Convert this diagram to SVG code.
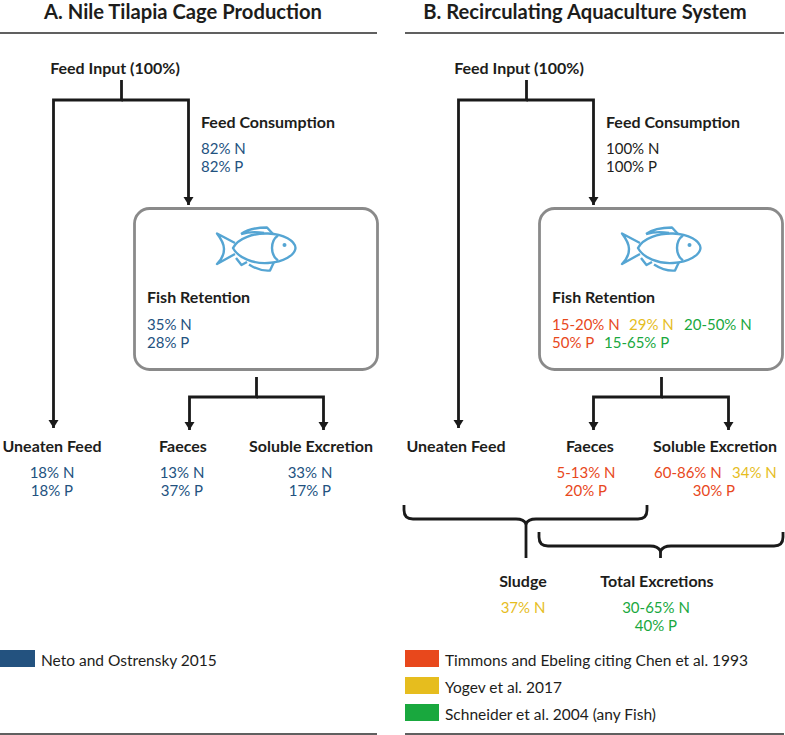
<svg xmlns="http://www.w3.org/2000/svg" width="785" height="735" viewBox="0 0 785 735">
<style>
text{font-family:Lato,"Open Sans","Liberation Sans",sans-serif;font-size:15px;fill:#1d1d1b}
.t{font-size:20.200px;font-weight:700;text-anchor:middle}
.b{font-weight:700;font-size:16px}
.m{text-anchor:middle}
.l{font-size:15.500px}
.blue{fill:#23527f}.red{fill:#e8481c}.yel{fill:#e6bd1e}.grn{fill:#19a83e}.blk{fill:#1d1d1b}
.rule{stroke:#2b2b2b;stroke-width:1.5;fill:none}
.conn{stroke:#1a1a1a;stroke-width:2.8;fill:none}
.box{fill:#fff;stroke:#8a8a8a;stroke-width:2.8}
.fish{fill:none;stroke:#55a5d3;stroke-width:2.400;stroke-linejoin:round}
</style>
<defs>
<marker id="ah" markerUnits="userSpaceOnUse" markerWidth="10" markerHeight="12" refX="8" refY="5" orient="auto"><path d="M0 0L8 5L0 10Z" fill="#1a1a1a"/></marker>
<g id="fishg" class="fish">
<path d="M233 248C238 238 254 233 268 233.500C284 234 295 241 295.500 248C295 255 284 262 268 263C254 264 238 258 233 248Z"/>
<path d="M278 235.500C270 241 270 255 278 260.500"/>
<path d="M235 243L217 233.500C222 240 224 246 224 249C224 254 221 260 217 264L235 254"/>
<path d="M241 234C248 229 258 227.500 267 227.500L273 234M241 234C248 232 256 231.500 264 233"/>
<path d="M236 258L241.500 265L247 262"/>
<path d="M249 264.500C256 269 264 271 270 270.500L274 262"/>
<circle cx="284.500" cy="245" r="2" fill="#55a5d3" stroke="none"/>
</g>
</defs>
<rect width="785" height="735" fill="#fff"/>

<g id="connectors">
<path class="conn" d="M121.500 80V100H53.500V428" marker-end="url(#ah)"/>
<path class="conn" d="M121.500 100H188.500V205" marker-end="url(#ah)"/>
<path class="conn" d="M256.500 377V397H189.500V430" marker-end="url(#ah)"/>
<path class="conn" d="M256.500 397H323.500V430" marker-end="url(#ah)"/>
<path class="conn" d="M526.500 80V100H458.500V428" marker-end="url(#ah)"/>
<path class="conn" d="M526.500 100H593.500V205" marker-end="url(#ah)"/>
<path class="conn" d="M661.500 377V397H593.500V430" marker-end="url(#ah)"/>
<path class="conn" d="M661.500 397H728.500V430" marker-end="url(#ah)"/>
<path class="conn" d="M404 505V510Q404 519 413 519H516Q524 519 526 524Q528 519 536 519H638Q647 519 647 510V505"/>
<path class="conn" d="M526 524V558"/>
<path class="conn" d="M539 532V537Q539 546 548 546H650Q658 546 660.500 551Q663 546 671 546H774Q783 546 783 537V532"/>
<path class="conn" d="M660.500 551V558"/>
</g>

<g id="panel-a-header">
<text class="t" x="183" y="19">A. Nile Tilapia Cage Production</text>
<path class="rule" d="M0 33H377"/>
</g>
<g id="panel-b-header">
<text class="t" x="585" y="19">B. Recirculating Aquaculture System</text>
<path class="rule" d="M405 33H784"/>
</g>

<g id="a-feed-input"><text class="b m" x="115" y="74">Feed Input (100%)</text></g>
<g id="a-feed-consumption">
<text class="b" x="201" y="128">Feed Consumption</text>
<text class="blue" x="201" y="154">82% N</text>
<text class="blue" x="201" y="172">82% P</text>
</g>
<g id="a-fish-retention">
<rect class="box" x="134.500" y="208.500" width="243" height="161" rx="15"/>
<use href="#fishg"/>
<text class="b" x="147" y="303">Fish Retention</text>
<text class="blue" x="147" y="330">35% N</text>
<text class="blue" x="147" y="348">28% P</text>
</g>
<g id="a-uneaten">
<text class="b m" x="52" y="452">Uneaten Feed</text>
<text class="blue m" x="52" y="478">18% N</text>
<text class="blue m" x="52" y="496">18% P</text>
</g>
<g id="a-faeces">
<text class="b m" x="183" y="452">Faeces</text>
<text class="blue m" x="182" y="478">13% N</text>
<text class="blue m" x="182" y="496">37% P</text>
</g>
<g id="a-soluble">
<text class="b m" x="311" y="452">Soluble Excretion</text>
<text class="blue m" x="310" y="478">33% N</text>
<text class="blue m" x="310" y="496">17% P</text>
</g>
<g id="a-legend">
<rect x="0" y="650" width="35" height="17" fill="#23527f"/>
<text class="l" x="41" y="666">Neto and Ostrensky 2015</text>
</g>

<g id="b-feed-input"><text class="b m" x="519" y="74">Feed Input (100%)</text></g>
<g id="b-feed-consumption">
<text class="b" x="606" y="128">Feed Consumption</text>
<text class="blk" x="606" y="154">100% N</text>
<text class="blk" x="606" y="172">100% P</text>
</g>
<g id="b-fish-retention">
<rect class="box" x="539.500" y="208.500" width="243" height="161" rx="15"/>
<use href="#fishg" x="405"/>
<text class="b" x="552" y="303">Fish Retention</text>
<text class="red" x="552" y="330">15-20% N</text>
<text class="yel" x="629" y="330">29% N</text>
<text class="grn" x="684" y="330">20-50% N</text>
<text class="red" x="552" y="348">50% P</text>
<text class="grn" x="604" y="348">15-65% P</text>
</g>
<g id="b-uneaten"><text class="b m" x="456" y="452">Uneaten Feed</text></g>
<g id="b-faeces">
<text class="b m" x="590" y="452">Faeces</text>
<text class="red m" x="586" y="478">5-13% N</text>
<text class="red m" x="586" y="496">20% P</text>
</g>
<g id="b-soluble">
<text class="b m" x="715" y="452">Soluble Excretion</text>
<text class="red" x="654" y="478">60-86% N</text>
<text class="yel" x="732" y="478">34% N</text>
<text class="red m" x="714" y="496">30% P</text>
</g>
<g id="b-sludge">
<text class="b m" x="523" y="587">Sludge</text>
<text class="yel m" x="523" y="613">37% N</text>
</g>
<g id="b-total">
<text class="b m" x="657" y="587">Total Excretions</text>
<text class="grn m" x="656" y="613">30-65% N</text>
<text class="grn m" x="656" y="631">40% P</text>
</g>
<g id="b-legend">
<rect x="405" y="650" width="34" height="17" fill="#e8481c"/>
<text class="l" x="445" y="666">Timmons and Ebeling citing Chen et al. 1993</text>
<rect x="405" y="677" width="34" height="17" fill="#e6bd1e"/>
<text class="l" x="445" y="693">Yogev et al. 2017</text>
<rect x="405" y="704" width="34" height="17" fill="#19a83e"/>
<text class="l" x="445" y="720">Schneider et al. 2004 (any Fish)</text>
<path class="rule" d="M405 734H784"/>
</g>
<path class="rule" d="M0 734H377"/>
</svg>
